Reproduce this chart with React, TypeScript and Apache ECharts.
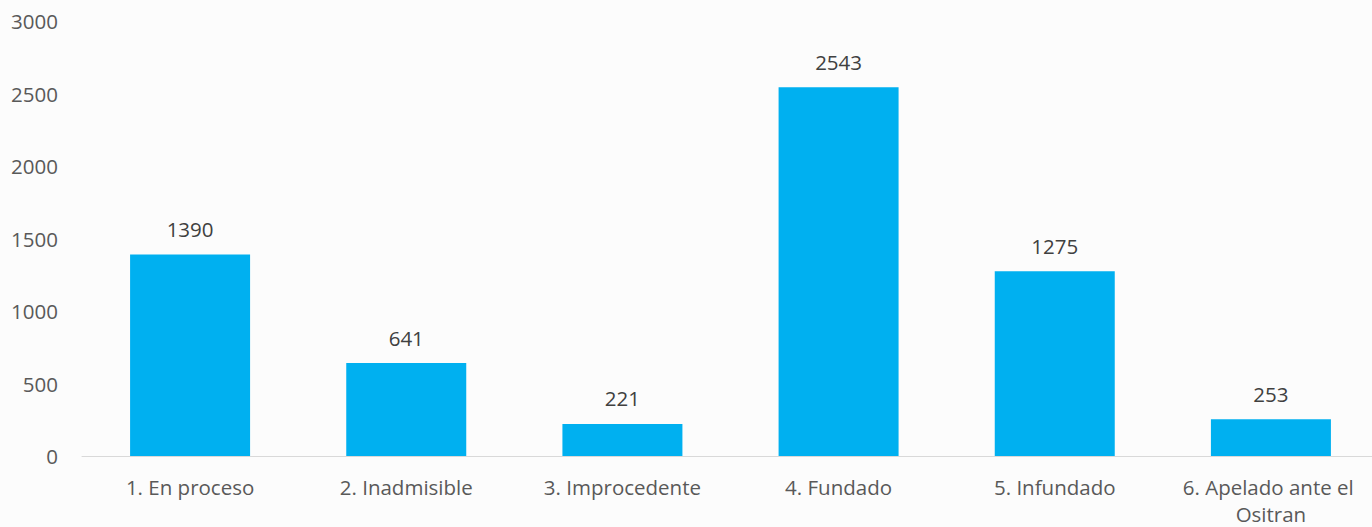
import React, { useEffect, useRef } from "react";
import * as echarts from "echarts";

const categories = [
  "1. En proceso",
  "2. Inadmisible",
  "3. Improcedente",
  "4. Fundado",
  "5. Infundado",
  "6. Apelado ante el Ositran",
];
const values = [1390, 641, 221, 2543, 1275, 253];
const yTicks = { min: 0, max: 3000, interval: 500 };

export default function App() {
  const ref = useRef<HTMLDivElement>(null);
  useEffect(() => {
    if (!ref.current) return;
    document.body.style.overflow = "hidden";
    const chart = echarts.init(ref.current, null, { renderer: "svg" });
    chart.setOption({
      animation: false,
      backgroundColor: "#FCFCFC",
      textStyle: { fontFamily: "Open Sans" },
      grid: { left: 82, right: 0, top: 21, bottom: 69, containLabel: false },
      xAxis: {
        type: "category",
        data: categories,
        axisLine: { lineStyle: { color: "#D9D9D9", width: 1 } },
        axisTick: { alignWithLabel: false, length: 7, lineStyle: { color: "#D9D9D9" } },
        axisLabel: {
          color: "#595959",
          fontSize: 20.5,
          fontFamily: "Open Sans",
          margin: 17,
          lineHeight: 27,
          width: 205,
          overflow: "break",
          interval: 0,
        },
      },
      yAxis: {
        type: "value",
        min: yTicks.min,
        max: yTicks.max,
        interval: yTicks.interval,
        axisLine: { show: false },
        axisTick: { show: false },
        splitLine: { show: false },
        axisLabel: {
          color: "#595959",
          fontSize: 20.5,
          fontFamily: "Open Sans",
          margin: 24,
          formatter: (v: number) => String(v),
        },
      },
      series: [
        {
          type: "bar",
          data: values,
          barWidth: 120,
          itemStyle: { color: "#00B0F0" },
          label: {
            show: true,
            position: "top",
            distance: 15,
            color: "#404040",
            fontSize: 20.5,
            fontFamily: "Open Sans",
          },
        },
      ],
    });
    return () => chart.dispose();
  }, []);
  return (
    <div
      ref={ref}
      style={{ position: "fixed", left: 0, top: 0, width: 1379, height: 527 }}
    />
  );
}
